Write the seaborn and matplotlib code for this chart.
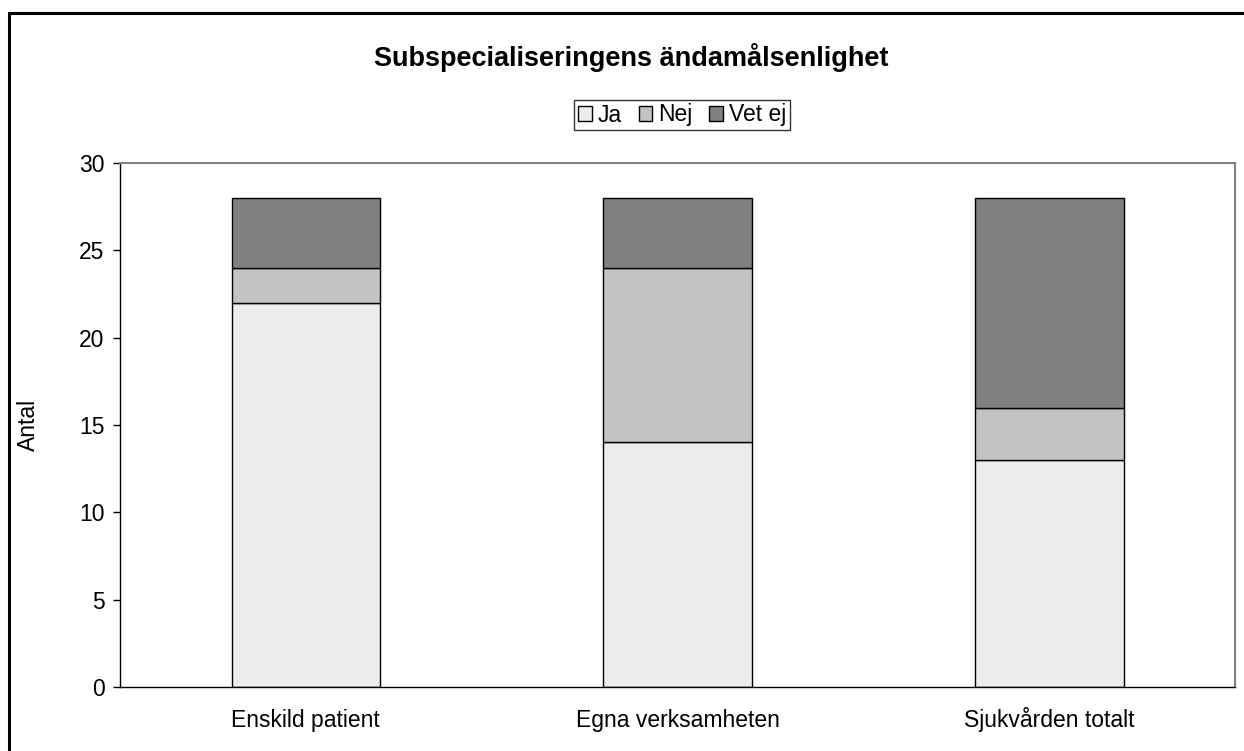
import numpy as np
import pandas as pd
import seaborn as sns
import matplotlib
matplotlib.use("Agg")
import matplotlib.pyplot as plt
from matplotlib.patches import Rectangle, Patch

# data
kategorier = ["Enskild patient", "Egna verksamheten", "Sjukvården totalt"]
ja = [22, 14, 13]
nej = [2, 10, 3]
vet_ej = [4, 4, 12]
serier = ["Ja", "Nej", "Vet ej"]
farger = ["#ececec", "#c2c2c2", "#808080"]

sns.set_style("white")
plt.rcParams['font.family'] = ['Liberation Sans', 'DejaVu Sans']
plt.rcParams['text.color'] = 'black'
plt.rcParams['axes.labelcolor'] = 'black'
plt.rcParams['xtick.color'] = 'black'
plt.rcParams['ytick.color'] = 'black'

fig = plt.figure(figsize=(12.44, 7.51), dpi=100)
ax = fig.add_axes([120/1244, 1-687/751, (1235-120)/1244, (687-163)/751])

botten = np.zeros(3)
for namn, varden, farg in zip(serier, [ja, nej, vet_ej], farger):
    sns.barplot(x=kategorier, y=varden, bottom=botten, color=farg, width=0.4,
                edgecolor="black", linewidth=1, saturation=1, ax=ax)
    botten = botten + np.array(varden)

ax.set_ylim(0, 30)
ax.set_xlim(-0.5, 2.5)
ax.set_yticks(range(0, 31, 5))
ax.set_ylabel("Antal", fontsize=16.5, labelpad=28)
ax.set_xlabel("")
ax.tick_params(axis="y", labelsize=16.5, length=5, width=1, direction="out", pad=6)
ax.tick_params(axis="x", labelsize=16.5, length=0, pad=29)
for lbl in ax.get_xticklabels():
    lbl.set_verticalalignment("baseline")
# tick marks between categories
ax.set_xticks([-0.5, 0.5, 1.5, 2.5], minor=True)
ax.tick_params(axis="x", which="minor", length=5, width=1, direction="out")
ax.yaxis.set_ticks_position("left")

for s in ["top", "right"]:
    ax.spines[s].set_color("#808080")
    ax.spines[s].set_linewidth(1.5)
for s in ["left", "bottom"]:
    ax.spines[s].set_color("black")
    ax.spines[s].set_linewidth(1)

fig.text(631/1244, 1-58/751, "Subspecialiseringens ändamålsenlighet",
         ha="center", va="center", fontsize=19.5, fontweight="bold")

handles = [Patch(facecolor=f, edgecolor="black", linewidth=1) for f in farger]
leg = fig.legend(handles, serier, loc="center", bbox_to_anchor=(682/1244, 1-115/751),
                 ncol=3, fontsize=16.5, frameon=True, fancybox=False, handlelength=0.6,
                 handleheight=0.6, handletextpad=0.25, columnspacing=0.75,
                 borderpad=0.15, borderaxespad=0)
leg.get_frame().set_edgecolor("black")
leg.get_frame().set_linewidth(1)

# figure border
fig.patches.append(Rectangle((9/1244, -0.1), 1.2, 1 - 13/751 + 0.1, transform=fig.transFigure,
                             fill=False, edgecolor="black", linewidth=2.2))

fig.savefig("out.png", dpi=100)
